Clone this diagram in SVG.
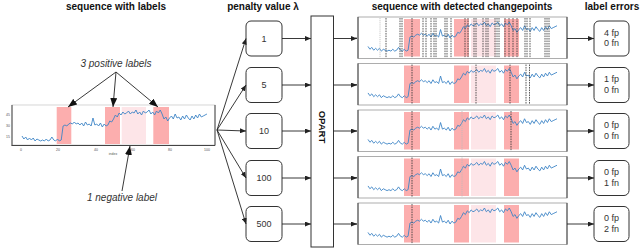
<svg xmlns="http://www.w3.org/2000/svg" xmlns:xlink="http://www.w3.org/1999/xlink" width="640" height="249" viewBox="0 0 640 249">
<style>
.title{font-family:"Liberation Sans",Arial,sans-serif;font-size:10px;font-weight:bold;fill:#111;text-anchor:middle}
.ann{font-family:"Liberation Sans",Arial,sans-serif;font-size:10px;font-style:italic;fill:#333;text-anchor:middle}
.lbl{font-family:"Liberation Sans",Arial,sans-serif;font-size:9px;fill:#333;text-anchor:middle}
.tick{font-family:"Liberation Sans",Arial,sans-serif;font-size:3.5px;fill:#555;text-anchor:middle}
.box{fill:#fff;stroke:#333;stroke-width:1}
.panel{fill:#fff;stroke:#999;stroke-width:0.8}
.axis{stroke:#444;stroke-width:1}
.pos{fill:#fcaeae}
.neg{fill:#fde5e8}
.data{fill:none;stroke:#3d85c6;stroke-width:0.9;stroke-linejoin:round}
.cp{stroke:#333;stroke-width:0.8;stroke-dasharray:1.6,0.9}
.cpf{stroke:#bbb;stroke-width:0.8;stroke-dasharray:1.2,0.9}
.con{stroke:#222;stroke-width:0.9;fill:none}
</style>
<defs>
<marker id="ah" markerUnits="userSpaceOnUse" markerWidth="6" markerHeight="5" refX="6" refY="2.5" orient="auto">
<path d="M0,0 L6,2.5 L0,5 z" fill="#222"/>
</marker>
<marker id="ahb" markerUnits="userSpaceOnUse" markerWidth="9" markerHeight="7" refX="9" refY="3.5" orient="auto">
<path d="M0,0 L9,3.5 L0,7 z" fill="#111"/>
</marker>
<path id="series" class="data" vector-effect="non-scaling-stroke" d="M0,26 L2,29 L4,27 L6,30 L8,28 L10,30 L12,28 L14,31 L16,29 L18,30 L20,31 L22,30 L24,31 L26,29 L28,31 L30,30 L32,27 L34,30 L36,31 L38,29 L40,31 L42,30 L44,16 L46,15 L48,16 L50,14 L52,13 L54,14 L56,12 L58,14 L60,13 L62,15 L64,13 L66,16 L68,12 L70,15 L72,14 L74,16 L76,8 L78,15 L80,14 L82,16 L84,13 L86,17 L88,14 L90,16 L92,15 L94,11 L96,12 L98,9 L100,5 L102,7 L104,3 L106,5 L108,2 L110,4 L112,3 L114,1 L116,4 L118,2 L120,3 L122,0 L124,4 L126,2 L128,5 L130,1 L132,3 L134,2 L136,0 L138,4 L140,2 L142,5 L144,1 L146,3 L148,0 L150,4 L152,9 L154,7 L156,11 L158,8 L160,6 L162,9 L164,4 L166,8 L168,7 L170,10 L172,6 L174,9 L176,5 L178,8 L180,10 L182,6 L184,9 L186,5 L188,8 L190,4 L192,7 L194,6 L196,5 L198,4"/>
<g id="panelbg">
<rect class="panel" x="0" y="0" width="209" height="41.5"/>
<rect class="pos" x="46" y="2" width="16" height="37.5"/>
<rect class="pos" x="96" y="2" width="15" height="37.5"/>
<rect class="neg" x="113" y="2" width="25" height="37.5"/>
<rect class="pos" x="146" y="2" width="15" height="37.5"/>
<line class="axis" x1="0" y1="0" x2="0" y2="41.5"/>
<line class="axis" x1="209" y1="0" x2="209" y2="41.5"/>
<line x1="-3" y1="21" x2="-1" y2="21" stroke="#444" stroke-width="0.8"/>
</g>
</defs>

<!-- titles -->
<text class="title" x="116" y="9.5">sequence with labels</text>
<text class="title" x="263" y="9.5">penalty value λ</text>
<text class="title" x="462" y="9.5">sequence with detected changepoints</text>
<text class="title" x="612" y="9.5">label errors</text>

<!-- left plot -->
<g id="sequence-plot">
<rect x="12" y="105" width="203" height="40" fill="#fff" stroke="#ccc" stroke-width="0.8"/>
<rect class="pos" x="56.7" y="107" width="14.6" height="37"/>
<rect class="pos" x="105" y="107" width="15" height="37"/>
<rect class="neg" x="121.7" y="107" width="24.3" height="37"/>
<rect class="pos" x="153.3" y="107" width="15.7" height="37"/>
<use xlink:href="#series" transform="translate(22,110) scale(0.934,1)"/>
<line class="axis" x1="12" y1="105" x2="12" y2="145.5"/>
<line class="axis" x1="11.5" y1="145.5" x2="215" y2="145.5"/>
<line class="axis" x1="215" y1="105" x2="215" y2="145.5"/>
<text class="tick" x="21" y="151">0</text>
<text class="tick" x="58" y="151">20</text>
<text class="tick" x="96" y="151">40</text>
<text class="tick" x="133" y="151">60</text>
<text class="tick" x="170" y="151">80</text>
<text class="tick" x="207" y="151">100</text>
<text class="tick" x="113" y="155">index</text>
<text class="tick" x="8" y="115.5">45</text>
<text class="tick" x="8" y="127">30</text>
<text class="tick" x="8" y="137.5">15</text>
</g>

<g id="annotations">
<text class="ann" x="116" y="67">3 positive labels</text>
<text class="ann" x="122" y="201">1 negative label</text>
</g>

<!-- penalty boxes -->
<g id="pen-1"><rect class="box" x="246" y="21" width="36" height="35" rx="5"/><text class="lbl" x="264" y="41.5">1</text></g>
<g id="pen-5"><rect class="box" x="246" y="67.5" width="36" height="35" rx="5"/><text class="lbl" x="264" y="88">5</text></g>
<g id="pen-10"><rect class="box" x="246" y="113.5" width="36" height="35" rx="5"/><text class="lbl" x="264" y="134">10</text></g>
<g id="pen-100"><rect class="box" x="246" y="160.5" width="36" height="35" rx="5"/><text class="lbl" x="264" y="181">100</text></g>
<g id="pen-500"><rect class="box" x="246" y="206.5" width="36" height="35" rx="5"/><text class="lbl" x="264" y="227">500</text></g>

<!-- OPART -->
<g id="opart">
<rect x="311" y="16" width="22.5" height="231" fill="#fff" stroke="#333" stroke-width="1"/>
<text transform="translate(318.8,127) rotate(90)" font-family="Liberation Sans, Arial, sans-serif" font-size="9.5" font-weight="bold" fill="#111" text-anchor="middle">OPART</text>
</g>

<!-- changepoint panels -->
<g id="cp-panel-1">
<use xlink:href="#panelbg" transform="translate(358,17)"/>
<use xlink:href="#series" transform="translate(368,22) scale(0.9545,0.94)"/>
<line class="cpf" x1="380" y1="18" x2="380" y2="58"/>
<g class="cp">
<line x1="386" y1="18" x2="386" y2="58"/><line x1="400" y1="18" x2="400" y2="58"/><line x1="402" y1="18" x2="402" y2="58"/><line x1="412" y1="18" x2="412" y2="58"/>
<line x1="423" y1="18" x2="423" y2="58"/><line x1="426" y1="18" x2="426" y2="58"/><line x1="431" y1="18" x2="431" y2="58"/><line x1="434" y1="18" x2="434" y2="58"/><line x1="436" y1="18" x2="436" y2="58"/>
<line x1="445" y1="18" x2="445" y2="58"/><line x1="447" y1="18" x2="447" y2="58"/><line x1="451" y1="18" x2="451" y2="58"/>
<line x1="465" y1="18" x2="465" y2="58"/><line x1="468" y1="18" x2="468" y2="58"/><line x1="474" y1="18" x2="474" y2="58"/><line x1="476" y1="18" x2="476" y2="58"/>
<line x1="483" y1="18" x2="483" y2="58"/><line x1="486" y1="18" x2="486" y2="58"/><line x1="488" y1="18" x2="488" y2="58"/>
<line x1="495" y1="18" x2="495" y2="58"/><line x1="497" y1="18" x2="497" y2="58"/><line x1="499" y1="18" x2="499" y2="58"/>
<line x1="505" y1="18" x2="505" y2="58"/><line x1="509" y1="18" x2="509" y2="58"/><line x1="513" y1="18" x2="513" y2="58"/><line x1="517" y1="18" x2="517" y2="58"/>
<line x1="525" y1="18" x2="525" y2="58"/><line x1="527" y1="18" x2="527" y2="58"/><line x1="530" y1="18" x2="530" y2="58"/>
<line x1="545" y1="18" x2="545" y2="58"/><line x1="547" y1="18" x2="547" y2="58"/><line x1="549" y1="18" x2="549" y2="58"/>
</g>
</g>
<g id="cp-panel-2">
<use xlink:href="#panelbg" transform="translate(358,63.5)"/>
<use xlink:href="#series" transform="translate(368,68.5) scale(0.9545,0.94)"/>
<g class="cp">
<line x1="412" y1="64.5" x2="412" y2="104"/><line x1="476" y1="64.5" x2="476" y2="104"/><line x1="510" y1="64.5" x2="510" y2="104"/><line x1="526" y1="64.5" x2="526" y2="104"/><line x1="529.5" y1="64.5" x2="529.5" y2="104"/>
</g>
</g>
<g id="cp-panel-3">
<use xlink:href="#panelbg" transform="translate(358,110)"/>
<use xlink:href="#series" transform="translate(368,115) scale(0.9545,0.94)"/>
<line class="cpf" x1="462" y1="111" x2="462" y2="150.5"/>
<g class="cp">
<line x1="412" y1="111" x2="412" y2="150.5"/><line x1="511" y1="111" x2="511" y2="150.5"/>
</g>
</g>
<g id="cp-panel-4">
<use xlink:href="#panelbg" transform="translate(358,156.5)"/>
<use xlink:href="#series" transform="translate(368,161.5) scale(0.9545,0.94)"/>
<line class="cpf" x1="462" y1="157.5" x2="462" y2="197"/>
<line class="cp" x1="412" y1="157.5" x2="412" y2="197"/>
</g>
<g id="cp-panel-5">
<use xlink:href="#panelbg" transform="translate(358,203)"/>
<use xlink:href="#series" transform="translate(368,208) scale(0.9545,0.94)"/>
<line class="cp" x1="412" y1="204" x2="412" y2="243.5"/>
</g>

<!-- label error boxes -->
<g id="err-1"><rect class="box" x="594" y="21" width="35" height="35" rx="5"/><text class="lbl" x="611.5" y="35.5">4 fp</text><text class="lbl" x="611.5" y="46">0 fn</text></g>
<g id="err-2"><rect class="box" x="594" y="67.5" width="35" height="35" rx="5"/><text class="lbl" x="611.5" y="82">1 fp</text><text class="lbl" x="611.5" y="92.5">0 fn</text></g>
<g id="err-3"><rect class="box" x="594" y="113.5" width="35" height="35" rx="5"/><text class="lbl" x="611.5" y="128">0 fp</text><text class="lbl" x="611.5" y="138.5">0 fn</text></g>
<g id="err-4"><rect class="box" x="594" y="160.5" width="35" height="35" rx="5"/><text class="lbl" x="611.5" y="175">0 fp</text><text class="lbl" x="611.5" y="185.5">1 fn</text></g>
<g id="err-5"><rect class="box" x="594" y="206.5" width="35" height="35" rx="5"/><text class="lbl" x="611.5" y="221">0 fp</text><text class="lbl" x="611.5" y="231.5">2 fn</text></g>

<!-- connectors -->
<g id="connectors">
<g class="con" marker-end="url(#ahb)">
<line x1="116" y1="72" x2="68" y2="107"/>
<line x1="116" y1="72" x2="113" y2="107"/>
<line x1="116" y1="72" x2="158" y2="107"/>
<line x1="122" y1="191" x2="130" y2="146"/>
</g>
<g class="con" marker-end="url(#ah)">
<line x1="217" y1="130" x2="246" y2="38.5"/>
<line x1="217" y1="130" x2="246" y2="85"/>
<line x1="217" y1="130" x2="246" y2="131"/>
<line x1="217" y1="130" x2="246" y2="178"/>
<line x1="217" y1="130" x2="246" y2="224"/>
<line x1="282" y1="38.5" x2="311" y2="38.5"/>
<line x1="282" y1="85" x2="311" y2="85"/>
<line x1="282" y1="131" x2="311" y2="131"/>
<line x1="282" y1="178" x2="311" y2="178"/>
<line x1="282" y1="224" x2="311" y2="224"/>
<line x1="333.5" y1="38.5" x2="357" y2="38.5"/>
<line x1="333.5" y1="85" x2="357" y2="85"/>
<line x1="333.5" y1="131" x2="357" y2="131"/>
<line x1="333.5" y1="178" x2="357" y2="178"/>
<line x1="333.5" y1="224" x2="357" y2="224"/>
<line x1="567" y1="38.5" x2="594" y2="38.5"/>
<line x1="567" y1="85" x2="594" y2="85"/>
<line x1="567" y1="131" x2="594" y2="131"/>
<line x1="567" y1="178" x2="594" y2="178"/>
<line x1="567" y1="224" x2="594" y2="224"/>
</g>
</g>
</svg>
